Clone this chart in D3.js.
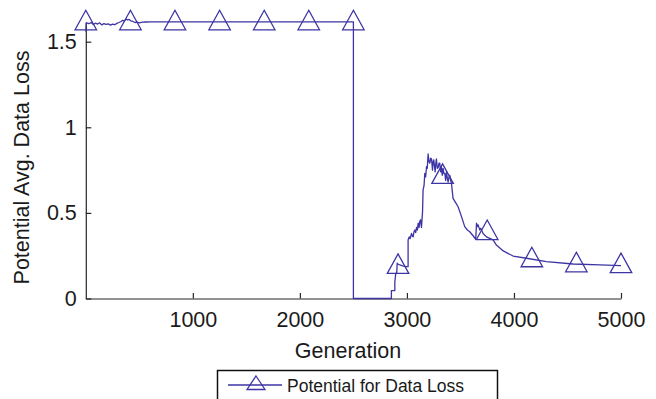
<!DOCTYPE html>
<html>
<head>
<meta charset="utf-8">
<script src="https://cdn.jsdelivr.net/npm/d3@7"></script>
<style>
	body { margin: 0; background: #fff; }
	svg { display: block; }
	text { font-family: "Liberation Sans", Arial, Helvetica, sans-serif; fill: #1a1a1a; }
</style>
</head>
<body>
<svg width="656" height="399"></svg>
<script>
// generation / potential avg. data loss
var generation = [0, 5, 30, 50, 70, 90, 110, 130, 150, 170, 190, 210, 230, 250, 270, 290, 310, 330, 345, 360,
	375, 390, 405, 420, 440, 460, 480, 500, 530, 560, 600, 2500, 2500, 2855, 2855, 2887, 2887, 2896, 2905, 2909,
	2918, 2940, 2960, 2980, 2996, 3011, 3011, 3021, 3030, 3043, 3050, 3058, 3066, 3074, 3082, 3090, 3098, 3105,
	3114, 3120, 3127, 3136, 3146, 3151, 3160, 3167, 3175, 3183, 3190, 3198, 3206, 3214, 3222, 3230, 3239, 3245,
	3251, 3258, 3264, 3270, 3276, 3284, 3292, 3300, 3307, 3315, 3322, 3330, 3338, 3346, 3354, 3362, 3370, 3378,
	3385, 3393, 3401, 3408, 3416, 3431, 3455, 3478, 3510, 3540, 3565, 3587, 3620, 3643, 3650, 3658, 3665, 3681,
	3690, 3712, 3743, 3805, 3836, 3900, 3992, 4117, 4303, 4552, 4801, 5000];
var dataLoss = [1.56, 1.61, 1.605, 1.612, 1.600, 1.608, 1.603, 1.610, 1.598, 1.606, 1.601, 1.604, 1.597, 1.603, 1.599, 1.607, 1.612, 1.618, 1.625, 1.620,
	1.632, 1.627, 1.630, 1.622, 1.618, 1.612, 1.614, 1.610, 1.614, 1.615, 1.616, 1.616, 0, 0, 0.046, 0.046, 0.098, 0.147, 0.15, 0.206,
	0.20, 0.195, 0.19, 0.188, 0.186, 0.186, 0.342, 0.36, 0.35, 0.38, 0.365, 0.36, 0.39, 0.40, 0.385, 0.415, 0.40, 0.44,
	0.415, 0.45, 0.46, 0.415, 0.507, 0.634, 0.66, 0.731, 0.71, 0.77, 0.76, 0.844, 0.80, 0.79, 0.82, 0.815, 0.75, 0.80,
	0.81, 0.77, 0.74, 0.79, 0.815, 0.76, 0.765, 0.79, 0.79, 0.74, 0.77, 0.72, 0.76, 0.73, 0.73, 0.69, 0.74, 0.70,
	0.68, 0.71, 0.72, 0.69, 0.673, 0.585, 0.56, 0.536, 0.478, 0.42, 0.40, 0.39, 0.365, 0.346, 0.44, 0.42, 0.43, 0.40,
	0.41, 0.38, 0.36, 0.342, 0.312, 0.278, 0.248, 0.235, 0.215, 0.2015, 0.196, 0.192];

// triangle markers
var markerGen = [0, 417, 833, 1250, 1667, 2083, 2500, 2917, 3333, 3750, 4167, 4583, 5000];
var markerLoss = [1.615, 1.615, 1.615, 1.615, 1.615, 1.615, 1.615, 0.192, 0.718, 0.39, 0.231, 0.2015, 0.197];

var xTicks = [1000, 2000, 3000, 4000, 5000];
var yTicks = [0, 0.5, 1, 1.5];
var legendLabel = "Potential for Data Loss";

var lineColor = "#3d35a3";

var svg = d3.select("svg");

var x = d3.scaleLinear().domain([0, 5000]).range([85.8, 621]);
var y = d3.scaleLinear().domain([0, 1.615]).range([298.5, 22]);

// axes, ticks pointing inward
var xAxis = d3.axisBottom(x)
	.tickValues(xTicks)
	.tickSizeInner(-5.5)
	.tickSizeOuter(0)
	.tickPadding(13.5)
	.tickFormat(d3.format("d"));

var yAxis = d3.axisLeft(y)
	.tickValues(yTicks)
	.tickSizeInner(-5.5)
	.tickSizeOuter(0)
	.tickPadding(9)
	.tickFormat(function(d) { return String(d); });

var gx = svg.append("g")
	.attr("transform", "translate(0," + y(0) + ")")
	.call(xAxis);
var gy = svg.append("g")
	.attr("transform", "translate(" + x(0) + ",0)")
	.call(yAxis);

[gx, gy].forEach(function(g) {
	g.attr("font-size", null).attr("font-family", null);
	g.selectAll("path, line").attr("stroke", "#262626").attr("stroke-width", 1.2);
	g.selectAll("text").style("font-size", "21.5px").attr("fill", "#1a1a1a");
});

svg.append("text")
	.attr("x", 348)
	.attr("y", 357.5)
	.attr("text-anchor", "middle")
	.style("font-size", "21.5px")
	.text("Generation");

svg.append("text")
	.attr("transform", "translate(28.7,167.5) rotate(-90)")
	.attr("text-anchor", "middle")
	.style("font-size", "21.5px")
	.text("Potential Avg. Data Loss");

var pts = generation.map(function(g, i) { return [g, dataLoss[i]]; });

var line = d3.line()
	.x(function(d) { return x(d[0]); })
	.y(function(d) { return y(d[1]); });

svg.append("path")
	.datum(pts)
	.attr("d", line)
	.attr("fill", "none")
	.attr("stroke", lineColor)
	.attr("stroke-width", 1.3)
	.attr("stroke-linejoin", "round");

function triangle(cx, cy, w, h) {
	return "M" + cx + "," + (cy - 0.6 * h) +
		"L" + (cx + w / 2) + "," + (cy + 0.4 * h) +
		"L" + (cx - w / 2) + "," + (cy + 0.4 * h) + "Z";
}

svg.append("g")
	.selectAll("path")
	.data(markerGen)
	.enter().append("path")
	.attr("d", function(g, i) { return triangle(x(g), y(markerLoss[i]), 21.5, 19.5); })
	.attr("fill", "none")
	.attr("stroke", lineColor)
	.attr("stroke-width", 1.3);

// legend, bottom is cut off by the frame
var legend = svg.append("g");
legend.append("rect")
	.attr("x", 217.5)
	.attr("y", 370.5)
	.attr("width", 280)
	.attr("height", 40)
	.attr("fill", "#fff")
	.attr("stroke", "#111")
	.attr("stroke-width", 1.5);
legend.append("line")
	.attr("x1", 228).attr("x2", 282)
	.attr("y1", 385).attr("y2", 385)
	.attr("stroke", lineColor)
	.attr("stroke-width", 1.3);
legend.append("path")
	.attr("d", "M256,376L265,389.5L247,389.5Z")
	.attr("fill", "none")
	.attr("stroke", lineColor)
	.attr("stroke-width", 1.3);
legend.append("text")
	.attr("x", 287)
	.attr("y", 391.5)
	.style("font-size", "17.5px")
	.text(legendLabel);
</script>
</body>
</html>
